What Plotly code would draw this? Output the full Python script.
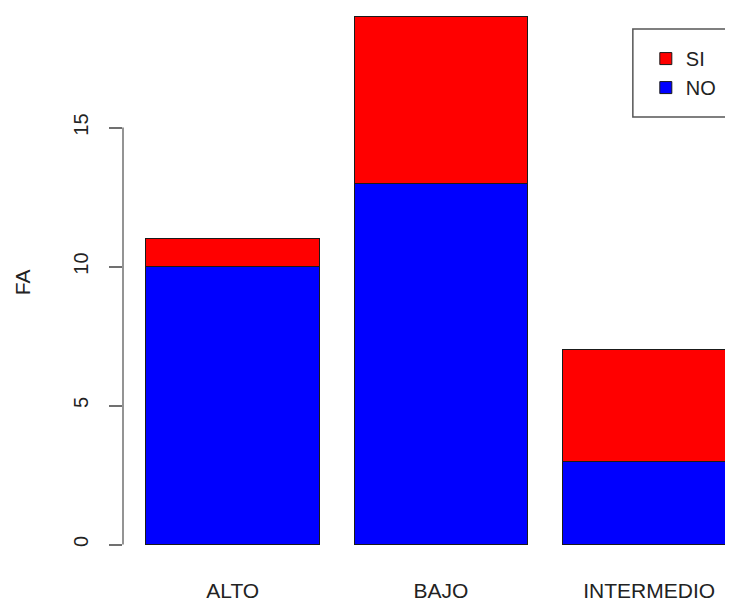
import plotly.graph_objects as go

categories = ["ALTO", "BAJO", "INTERMEDIO"]
no_values = [10, 13, 3]
si_values = [1, 6, 4]
y_ticks = [0, 5, 10, 15]
y_title = "FA"

FONT = "Liberation Sans, Arial, sans-serif"

fig = go.Figure()
fig.add_trace(go.Bar(x=categories, y=no_values, name="NO",
                     marker=dict(color="#0000FF", line=dict(color="#1a1a1a", width=1))))
fig.add_trace(go.Bar(x=categories, y=si_values, name="SI",
                     marker=dict(color="#FF0000", line=dict(color="#1a1a1a", width=1))))

fig.update_layout(
    width=733, height=595,
    barmode="stack", bargap=0.2 / 1.2,
    plot_bgcolor="white", paper_bgcolor="white",
    margin=dict(l=115, r=0, t=0, b=40, autoexpand=False),
    font=dict(family=FONT, color="#222222"),
    showlegend=True,
    legend=dict(x=0.846, y=0.944, xanchor="left", yanchor="top",
                traceorder="reversed", font=dict(size=20, family=FONT, color="#222"),
                bgcolor="rgba(0,0,0,0)", borderwidth=0),
    xaxis=dict(type="category", range=[-0.527, 2.441], showline=False, showgrid=False,
               zeroline=False, ticks="", tickfont=dict(size=21, family=FONT, color="#222"),
               ticklabelstandoff=13, automargin=False),
    yaxis=dict(range=[-0.665, 19.30], tickvals=y_ticks, ticktext=[str(v) for v in y_ticks],
               showline=False, showgrid=False, zeroline=False,
               ticks="outside", ticklen=13, tickwidth=1.5, tickcolor="#707070",
               tickangle=-90, tickfont=dict(size=20, family=FONT, color="#222"),
               ticklabelstandoff=13, automargin=False),
    shapes=[
        dict(type="line", xref="paper", yref="y", x0=0, x1=0,
             y0=min(y_ticks), y1=max(y_ticks), line=dict(color="#707070", width=1.5)),
        dict(type="rect", xref="paper", yref="paper", x0=0.825, x1=1.2,
             y0=0.8036, y1=0.9622, line=dict(color="#555555", width=1.5)),
    ],
    annotations=[
        dict(text=y_title, xref="paper", yref="paper", x=0, y=0.506, xshift=-101,
             xanchor="center", yanchor="middle", textangle=-90, showarrow=False,
             font=dict(size=21, family=FONT, color="#222")),
    ],
)

fig.write_html("out.html")
